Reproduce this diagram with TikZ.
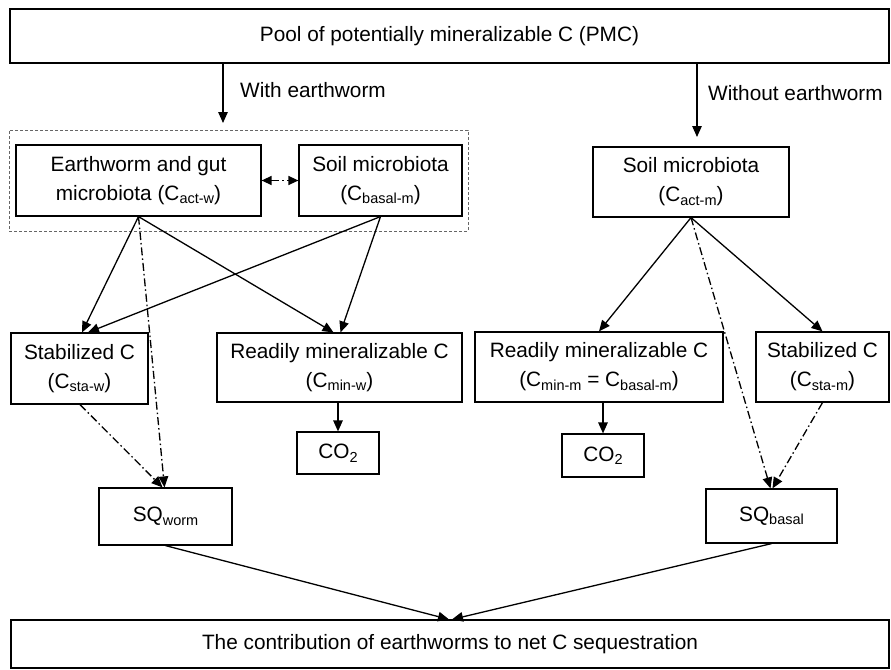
\documentclass[tikz,border=0pt]{standalone}
\usepackage{fontspec}
\setmainfont{Liberation Sans}
\usetikzlibrary{arrows.meta}
\newcommand{\sbs}[1]{\raisebox{-0.32ex}{\fontsize{14.5}{14.5}\selectfont #1}}
\begin{document}
\begin{tikzpicture}[x=1pt,y=-1pt,
  font=\fontsize{20.8}{29}\selectfont,
  box/.style={draw, line width=1.2pt, align=center, inner sep=0pt},
  arr/.style={line width=1.3pt, -{Triangle[length=11pt,width=9.5pt]}},
  dd/.style={arr, dash pattern=on 8pt off 3pt on 1.5pt off 3pt},
  grpbox/.style={draw=black!60, line width=0.9pt, dash pattern=on 3pt off 2pt, inner sep=0pt}]
\useasboundingbox (0,0) rectangle (891,669);

% group (dashed) box
\node[grpbox, minimum width=459pt, minimum height=101pt] (grp) at (238.5,180.5) {};

% nodes
\node[box, minimum width=879pt, minimum height=54pt] (top) at (449.5,36) {Pool of potentially mineralizable C (PMC)};
\node[box, minimum width=245pt, minimum height=71pt] (ew) at (138.5,180.5) {Earthworm and gut\\microbiota (C\sbs{act-w})};
\node[box, minimum width=163pt, minimum height=71pt] (smL) at (380.5,180.5) {Soil microbiota\\(C\sbs{basal-m})};
\node[box, minimum width=196pt, minimum height=70pt] (smR) at (691,182) {Soil microbiota\\(C\sbs{act-m})};
\node[box, minimum width=137pt, minimum height=71pt] (staW) at (79.5,368.5) {Stabilized C\\(C\sbs{sta-w})};
\node[box, minimum width=245pt, minimum height=69pt] (minW) at (339.5,367.5) {Readily mineralizable C\\(C\sbs{min-w})};
\node[box, minimum width=248pt, minimum height=70pt] (minM) at (599,367) {Readily mineralizable C\\(C\sbs{min-m} = C\sbs{basal-m})};
\node[box, minimum width=133pt, minimum height=70pt] (staM) at (822.5,367) {Stabilized C\\(C\sbs{sta-m})};
\node[box, minimum width=82pt, minimum height=42pt] (co2L) at (338,453) {CO\sbs{2}};
\node[box, minimum width=82pt, minimum height=43pt] (co2R) at (603,455.5) {CO\sbs{2}};
\node[box, minimum width=133pt, minimum height=57pt] (sqw) at (165.5,516.5) {SQ\sbs{worm}};
\node[box, minimum width=131pt, minimum height=54pt] (sqb) at (771.5,516) {SQ\sbs{basal}};
\node[box, minimum width=878pt, minimum height=48pt] (bot) at (450,644) {The contribution of earthworms to net C sequestration};

% labels
\node[anchor=west, inner sep=0pt] (lw) at (240,90) {With earthworm};
\node[anchor=west, inner sep=0pt] (lwo) at (708,93) {Without earthworm};

% free ends
\coordinate (wl) at (223,123);
\coordinate (wol) at (697,137);

% connectors
\draw[arr] (top.south -| wl) -- (wl);
\draw[arr] (top.south -| wol) -- (wol);
\draw[dd, {Triangle[length=10pt,width=9pt]}-{Triangle[length=10pt,width=9pt]}] (ew.east) -- (smL.west);

\draw[arr] (ew.south) -- ([xshift=2.5pt]staW.north);
\draw[arr] (ew.south) -- ([xshift=-6pt]minW.north);
\draw[arr] (smL.south) -- ([xshift=8.5pt]staW.north);
\draw[arr] (smL.south) -- ([xshift=1pt]minW.north);
\draw[dd] (ew.south) -- ([xshift=-1pt]sqw.north);
\draw[dd] ([xshift=0.5pt]staW.south) -- ([xshift=-3pt]sqw.north);
\draw[arr] (minW.south -| co2L) -- (co2L.north);

\draw[arr] (smR.south) -- (minM.north);
\draw[arr] (smR.south) -- (staM.north);
\draw[dd] (smR.south) -- ([xshift=-1pt]sqb.north);
\draw[dd] (staM.south) -- ([xshift=1pt]sqb.north);
\draw[arr] (minM.south -| co2R) -- (co2R.north);

\draw[arr] (sqw.south) -- ([xshift=-1pt]bot.north);
\draw[arr] (sqb.south) -- ([xshift=2pt]bot.north);
\end{tikzpicture}
\end{document}
